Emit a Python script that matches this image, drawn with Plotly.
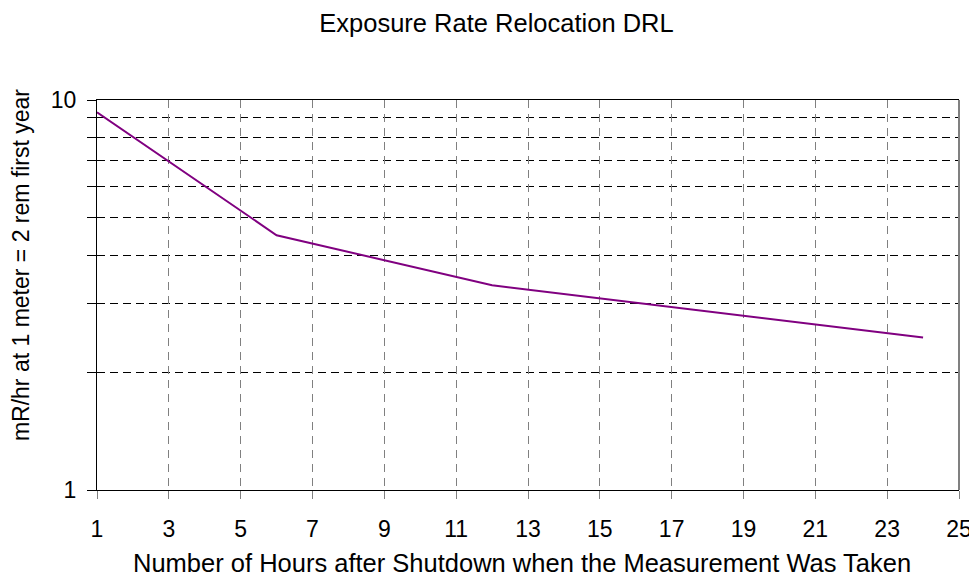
import plotly.graph_objects as go

hours = [1, 6, 12, 24]
rate = [9.3, 4.5, 3.35, 2.46]
x_ticks = list(range(1, 26, 2))
y_major = [1, 10]
y_minor = [2, 3, 4, 5, 6, 7, 8, 9]

title_text = "Exposure Rate Relocation DRL"
x_title = "Number of Hours after Shutdown when the Measurement Was Taken"
y_title = "mR/hr at 1 meter = 2 rem first year"

FONT = "Liberation Sans, Arial, sans-serif"

fig = go.Figure()
fig.add_trace(go.Scatter(x=hours, y=rate, mode="lines",
                         line=dict(color="#800080", width=2),
                         showlegend=False, hoverinfo="x+y"))

fig.update_layout(
    width=977, height=588,
    paper_bgcolor="white", plot_bgcolor="white",
    margin=dict(l=89, r=26, t=92, b=106),
    font=dict(family=FONT, color="black", size=23),
    title=dict(text=title_text, x=0.5, xanchor="center", y=0.975, yanchor="middle",
               font=dict(size=25.5, family=FONT, color="black")),
    xaxis=dict(
        range=[1, 25], tickvals=x_ticks, ticktext=[str(v) for v in x_ticks],
        showgrid=True, gridcolor="#808080", gridwidth=1, griddash="8px,6px",
        showline=True, linecolor="black", linewidth=1, mirror=True,
        ticks="outside", ticklen=8, tickcolor="#808080",
        ticklabelstandoff=10,
        zeroline=False,
        tickfont=dict(size=23),
    ),
    yaxis=dict(
        type="log", range=[0, 1], tickvals=y_major, ticktext=["1", "10"],
        showgrid=False,
        showline=True, linecolor="black", linewidth=1,
        ticks="outside", ticklen=9, tickcolor="black",
        ticklabelstandoff=6,
        tickfont=dict(size=23),
        minor=dict(tickvals=y_minor, showgrid=True, gridcolor="black",
                   griddash="8px,5px", gridwidth=1, ticks="outside",
                   ticklen=9, tickcolor="black"),
    ),
    annotations=[
        dict(text=x_title, xref="paper", yref="paper", x=0.493, y=-0.187,
             xanchor="center", yanchor="middle", showarrow=False,
             font=dict(size=25.5, family=FONT, color="black")),
        dict(text=y_title, xref="paper", yref="paper", x=-0.088, y=0.577,
             xanchor="center", yanchor="middle", showarrow=False, textangle=-90,
             font=dict(size=23, family=FONT, color="black")),
    ],
    shapes=[dict(type="line", xref="paper", yref="paper", x0=1, x1=1, y0=0, y1=1,
                 line=dict(color="#808080", width=2), layer="above")],
)

fig.write_html("out.html")
